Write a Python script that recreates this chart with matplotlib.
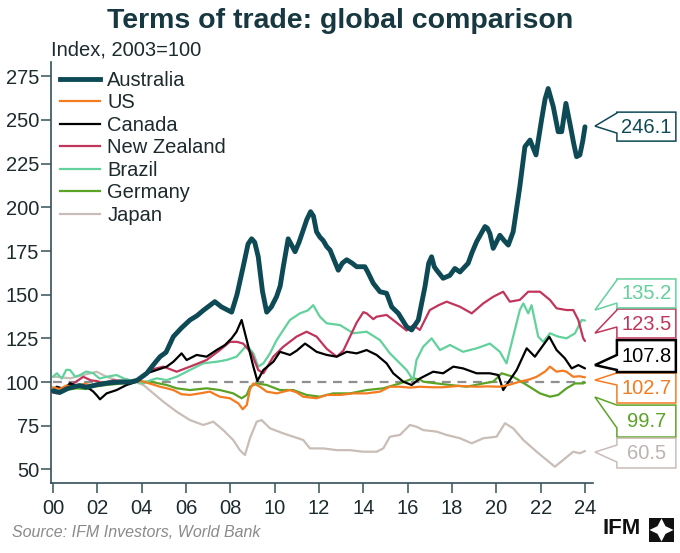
import matplotlib
matplotlib.use("Agg")
import matplotlib.pyplot as plt
from matplotlib.lines import Line2D
from matplotlib.patches import Polygon, Rectangle

plt.rcParams["font.family"] = ["Liberation Sans", "DejaVu Sans"]
plt.rcParams["font.size"] = 14.5

# years since 2000 / index values (2003=100)
aus_t = [0, 0.3, 0.7, 1.2, 1.5, 2.0, 2.5, 3.0, 3.5, 3.8, 4.23, 4.6, 4.83, 5.1, 5.43, 5.8,
         6.18, 6.5, 6.78, 7.3, 7.6, 8.06, 8.3, 8.58, 8.8, 8.96, 9.1, 9.26, 9.45, 9.64,
         9.85, 10.09, 10.25, 10.39, 10.61, 10.78, 10.92, 11.1, 11.29, 11.45, 11.62, 11.75,
         11.89, 12.04, 12.19, 12.35, 12.5, 12.87, 13.05, 13.25, 13.5, 13.7, 14.07, 14.2,
         14.45, 14.75, 15.05, 15.28, 15.58, 15.95, 16.18, 16.48, 16.78, 16.95, 17.08, 17.2,
         17.31, 17.6, 17.9, 18.13, 18.36, 18.73, 18.9, 19.11, 19.49, 19.6, 19.71, 19.86,
         20.0, 20.16, 20.35, 20.54, 20.76, 20.9, 21.06, 21.29, 21.52, 21.79, 22.04, 22.2,
         22.34, 22.57, 22.79, 22.95, 23.14, 23.32, 23.5, 23.62, 23.77, 23.9, 24.0]
aus_v = [95, 94, 96.5, 98, 97, 98.5, 99.5, 100, 100, 101, 105, 111, 114.5, 117, 126, 131,
         135.5, 138, 141, 146, 143, 140, 150, 166, 179, 182, 180, 171.7, 152, 140,
         143, 149, 155, 166, 182, 178, 174.6, 180, 187, 193, 197.5, 195,
         186, 183, 181, 177.5, 175.5, 164, 168, 170, 168, 166, 166, 163,
         156.5, 151.7, 150.8, 143, 139.3, 131.7, 129.8, 135.5, 154.5, 168, 171.7, 166,
         164, 159.4, 161, 165, 163, 168, 174, 180.3, 189, 188, 185, 176.5,
         180, 184, 181, 178.4, 186, 198, 211.8, 234.7, 238.5, 230, 250, 262,
         268, 257.6, 243.3, 243.3, 259.5, 248, 236, 229, 230, 238, 246.1]

us_t = [0, 0.3, 0.6, 1.0, 1.4, 1.8, 2.2, 2.6, 3.0, 3.5, 4.0, 4.4, 4.83, 5.1, 5.43, 5.8,
        6.18, 6.63, 7.08, 7.3, 7.53, 7.98, 8.2, 8.36, 8.56, 8.74, 8.89, 9.04, 9.34, 9.64,
        10.09, 10.69, 11.0, 11.29, 11.89, 12.35, 12.95, 13.55, 14.15, 14.75, 15.2, 15.65,
        16.1, 16.55, 17.1, 17.6, 18.3, 19.1, 19.6, 20.16, 20.6, 21.06, 21.5, 21.82, 22.2,
        22.42, 22.72, 23.0, 23.17, 23.47, 23.75, 24.0]
us_v = [97, 96, 98, 97, 99, 98, 100, 99, 100, 100.5, 100.5, 99, 97.3, 96.5, 95.4, 93,
        92.6, 93.5, 94.5, 93, 91.6, 90.7, 89, 87.8, 84.4, 86.8, 96, 99.2, 97.3, 94.5,
        93.5, 95.4, 94, 91.6, 90.7, 92.6, 92.6, 93.5, 93.5, 94.5, 97.3, 97.3,
        96.8, 97.3, 97, 97, 97.8, 97.3, 97.5, 97.3, 98.5, 100.2, 101.5, 103, 106,
        108.8, 105.9, 106.5, 105.9, 103, 103.3, 102.7]

can_t = [0, 0.17, 0.5, 0.77, 1.1, 1.37, 1.6, 1.82, 2.0, 2.12, 2.42, 2.87, 3.32, 3.78, 4.23,
         4.68, 5.13, 5.43, 5.8, 6.03, 6.48, 6.93, 7.38, 7.76, 8.06, 8.28, 8.51, 8.74, 9.04,
         9.22, 9.49, 9.94, 10.24, 10.69, 11.0, 11.37, 11.6, 11.89, 12.35, 12.8, 13.25, 13.7,
         14.15, 14.6, 15.05, 15.35, 15.8, 16.18, 16.55, 17.15, 17.6, 18.06, 18.5, 19.11,
         19.71, 20.09, 20.31, 20.61, 20.92, 21.37, 21.74, 22.12, 22.39, 22.72, 23.09, 23.4,
         23.7, 24.0]
can_v = [95, 97.3, 96, 99.3, 97.5, 98.3, 96.5, 94.5, 92, 90.1, 93.5, 95.4, 98.3, 100.2, 105,
         106.9, 108.8, 111.6, 116.4, 112.6, 115.5, 114.5, 118.3, 121.2, 125, 128.8, 135.5, 124, 108.8,
         100.6, 106.9, 111.6, 117.3, 115.5, 118, 122, 120, 117.3, 115.5, 114.5, 117.3, 116.4,
         118.3, 115.5, 110.7, 105, 100.2, 98.3, 102, 105.9, 105, 108.8, 107.8, 105,
         105, 104, 95.4, 101.1, 106.9, 119.3, 114.5, 121.2, 125.9, 118.3, 113.6, 107.8,
         109.7, 107.8]

nz_t = [0, 0.17, 0.5, 0.9, 1.37, 1.7, 2.0, 2.27, 2.7, 3.2, 3.7, 4.0, 4.38, 4.98, 5.58, 6.18,
        6.93, 7.53, 7.98, 8.3, 8.58, 8.96, 9.26, 9.49, 9.94, 10.39, 10.99, 11.44, 11.89,
        12.35, 12.8, 13.1, 13.4, 13.7, 14.0, 14.15, 14.45, 14.6, 15.05, 15.5, 15.95, 16.25,
        16.55, 17.0, 17.4, 17.76, 18.36, 18.89, 19.41, 19.86, 20.31, 20.61, 21.06, 21.44,
        21.97, 22.42, 22.72, 23.17, 23.47, 23.7, 23.92, 24.0]
nz_v = [94, 93.5, 96, 99, 103, 101, 100.5, 99.2, 101, 100, 100.5, 103, 106.9, 108.8, 105.9, 108.8,
        112.6, 118.3, 123, 123, 122, 116.4, 106.9, 105, 114.5, 120.2, 126, 128.8, 126,
        119, 114.5, 118, 126, 134, 140, 139.3, 136, 137.4, 138.4, 134, 129.5, 132.6,
        129.8, 141.2, 144, 146, 143.1, 139.3, 145, 148.8, 151.7, 146, 147, 151.7,
        151.7, 147, 142.2, 141.2, 141.2, 135.5, 125, 123.5]

bra_t = [0, 0.17, 0.4, 0.6, 0.77, 1.0, 1.22, 1.5, 1.82, 2.1, 2.42, 2.87, 3.2, 3.47, 4.08, 4.4,
         4.68, 5.13, 5.58, 6.18, 6.78, 7.38, 7.83, 8.28, 8.74, 9.04, 9.26, 9.49, 9.79, 10.09,
         10.39, 10.69, 11.14, 11.5, 11.74, 12.04, 12.35, 12.95, 13.55, 14.15, 14.75, 15.2,
         15.65, 15.95, 16.25, 16.4, 16.7, 17.08, 17.46, 17.91, 18.5, 19.11, 19.71, 20.16,
         20.46, 20.76, 21.06, 21.22, 21.44, 21.59, 21.89, 22.12, 22.42, 22.79, 23.17, 23.55,
         23.85, 24.0]
bra_v = [103, 105, 102, 107, 106.9, 103, 104, 106, 105, 102, 103, 104, 102, 101.1, 99.2, 101,
         102.1, 101.1, 103, 106.9, 110.7, 111.6, 112.6, 114.5, 121, 116.4, 108.8, 110.7, 116.4, 124,
         129.8, 135.5, 139.3, 141, 144, 137.4, 133.6, 132.6, 127.9, 128.8, 124, 116.4,
         110.7, 106.9, 101.1, 112.6, 120.2, 125, 118.3, 121.2, 117.3, 119.3, 122, 117.3,
         110.7, 126, 141.2, 145, 139.3, 144, 126, 123, 127.9, 126, 125, 127.9,
         135.5, 135.2]

ger_t = [0, 0.17, 0.6, 1.07, 1.5, 1.82, 2.42, 3.17, 3.78, 4.38, 5.13, 5.58, 6.18, 6.93, 7.53,
         8.13, 8.51, 8.74, 8.89, 9.19, 9.64, 10.24, 10.84, 11.44, 12.04, 12.64, 13.4, 14.15,
         14.9, 15.65, 16.25, 16.55, 16.7, 17.31, 17.91, 18.66, 19.41, 19.86, 20.24, 20.76,
         21.37, 21.97, 22.42, 22.79, 23.17, 23.55, 23.92, 24.0]
ger_v = [94, 94.5, 95.5, 96.4, 96, 97.3, 98.3, 99.2, 100.2, 100.2, 98.3, 96.4, 95.4, 96.4, 95.4,
         93.5, 90.7, 92.6, 97.3, 99.2, 98.3, 95.4, 95.4, 92.6, 91.6, 93.5, 93.5, 95.4,
         96.4, 99.2, 102.1, 101.5, 100.2, 99.2, 98.3, 97.3, 99.2, 100.2, 105, 103,
         98.3, 93.5, 91.6, 92.6, 96.4, 99.2, 99.2, 99.7]

jpn_t = [0, 0.17, 0.77, 1.37, 1.97, 2.42, 2.87, 3.47, 4.08, 4.53, 4.98, 5.58, 6.18, 6.78, 7.23,
         7.68, 8.13, 8.43, 8.66, 8.89, 9.19, 9.41, 9.79, 10.39, 10.84, 11.29, 11.59, 12.19,
         12.8, 13.4, 13.99, 14.6, 14.9, 15.2, 15.65, 16.1, 16.4, 16.7, 17.31, 17.76, 18.36,
         18.89, 19.41, 20.01, 20.39, 20.76, 21.22, 21.82, 22.27, 22.64, 23.02, 23.47, 23.77, 24.0]
jpn_v = [103, 103, 102.1, 104, 105.9, 103, 101.1, 101.1, 98.3, 93.5, 88.7, 83, 78.2, 75.4, 77.3,
         72.5, 66.8, 61, 58.2, 68, 77.3, 78.2, 73.5, 70.6, 68.7, 66.8, 62, 62,
         61, 61, 60.1, 60.1, 62, 68.7, 69.7, 75.4, 74.4, 72.5, 71.6, 69.7, 67.8,
         64.9, 67.8, 68.7, 76.4, 73.5, 66.8, 60.1, 55.4, 51.5, 55.4, 60.1, 59.2, 60.5]

names = ["Australia", "US", "Canada", "New Zealand", "Brazil", "Germany", "Japan"]
colors = ["#0e4a56", "#f47b20", "#000000", "#c2355b", "#62d19c", "#5ba327", "#c9bdb7"]
series = [(aus_t, aus_v), (us_t, us_v), (can_t, can_v), (nz_t, nz_v),
          (bra_t, bra_v), (ger_t, ger_v), (jpn_t, jpn_v)]
xticks = list(range(0, 25, 2))
xticklabels = ["00", "02", "04", "06", "08", "10", "12", "14", "16", "18", "20", "22", "24"]
yticks = [50, 75, 100, 125, 150, 175, 200, 225, 250, 275]

# callout layout: box top, box bottom, notch top, notch bottom, tip (index units)
callouts = {
    "Australia": (254.5, 237.9, 254.0, 242.5, 246.5),
    "Brazil": (159.0, 142.4, 158.4, 145.2, 141.2),
    "New Zealand": (141.8, 125.2, 141.2, 131.5, 128.0),
    "Canada": (124.0, 105.7, 115.5, 106.9, 109.7),
    "US": (105.2, 88.0, 105.2, 98.3, 101.1),
    "Germany": (86.8, 68.5, 86.8, 73.7, 91.4),
    "Japan": (67.9, 50.8, 63.9, 54.2, 59.9),
}

SPINE = "#34525a"
TXT = "#1d2a2e"

fig = plt.figure(figsize=(6.8, 5.53), dpi=100)
ax = fig.add_axes([0.075, 0.1266, 0.797, 0.7613])

ax.plot([0, 24], [100, 100], color="#8f8f8f", lw=1.6, ls=(0, (4, 3)), zorder=1)

for i in range(len(names) - 1, -1, -1):
    t, v = series[i]
    lw = 3.5 if i == 0 else 1.6
    ax.plot(t, v, color=colors[i], lw=lw, zorder=10 - i, solid_capstyle="round")

ax.set_xlim(-0.09, 24.36)
ax.set_ylim(42.2, 283.2)
ax.set_xticks(xticks)
ax.set_xticklabels(xticklabels)
ax.set_yticks(yticks)
for s in ["top", "right"]:
    ax.spines[s].set_visible(False)
for s in ["left", "bottom"]:
    ax.spines[s].set_color(SPINE)
    ax.spines[s].set_linewidth(1.2)
ax.tick_params(axis="both", length=7.5, width=1.1, color=SPINE, labelcolor=TXT,
               labelsize=14.5, direction="out")
ax.tick_params(axis="x", pad=4)
ax.tick_params(axis="y", pad=1)

handles = [Line2D([], [], color=c, lw=(3.5 if k == 0 else 1.6)) for k, c in enumerate(colors)]
leg = ax.legend(handles, names, loc="upper left", bbox_to_anchor=(0.0, 1.0), frameon=False,
                fontsize=14.5, handlelength=2.0, handletextpad=0.35, labelspacing=0.17,
                borderaxespad=0.25, borderpad=0.2)
for txt in leg.get_texts():
    txt.set_color(TXT)

# callout boxes on the right
x_tip, x0, x1 = 24.45, 25.44, 28.1
for k, name in enumerate(names):
    top, bot, nt, nb, tip = callouts[name]
    val = series[k][1][-1]
    pts = [(x0, top), (x1, top), (x1, bot), (x0, bot), (x0, nb), (x_tip, tip), (x0, nt)]
    ew = 1.8 if name == "Canada" else 1.1
    poly = Polygon(pts, closed=True, facecolor="white", edgecolor=colors[k], lw=ew,
                   clip_on=False, zorder=20, joinstyle="miter")
    ax.add_patch(poly)
    tc = "#bdb3af" if name == "Japan" else colors[k]
    ax.text((x0 + x1) / 2, (top + bot) / 2 - 0.3, f"{val:.1f}", color=tc, fontsize=14.5,
            ha="center", va="center", zorder=21, clip_on=False)

fig.text(0.5, 0.962, "Terms of trade: global comparison", ha="center", va="center",
         fontsize=20.5, fontweight="bold", color="#173840")
fig.text(0.075, 0.909, "Index, 2003=100", ha="left", va="center", fontsize=14.5, color=TXT)
fig.text(0.017, 0.037, "Source: IFM Investors, World Bank", ha="left", va="center",
         fontsize=11.5, style="italic", color="#8a8a8a")

# IFM logo
fig.text(0.943, 0.045, "IFM", ha="right", va="center", fontsize=16, fontweight="bold",
         color="#111111")
lx0, ly0, lw_, lh = 649 / 680, (553 - 542) / 553, 25 / 680, 24 / 553
fig.patches.append(Rectangle((lx0, ly0), lw_, lh, transform=fig.transFigure,
                             facecolor="#111111", edgecolor="none"))
cx, cy = lx0 + lw_ / 2, ly0 + lh / 2
star = [(cx, ly0 + lh * 0.98), (cx + lw_ * 0.16, cy + lh * 0.16), (lx0 + lw_ * 0.98, cy),
        (cx + lw_ * 0.16, cy - lh * 0.16), (cx, ly0 + lh * 0.02), (cx - lw_ * 0.16, cy - lh * 0.16),
        (lx0 + lw_ * 0.02, cy), (cx - lw_ * 0.16, cy + lh * 0.16)]
fig.patches.append(Polygon(star, closed=True, transform=fig.transFigure,
                           facecolor="white", edgecolor="none"))

fig.savefig("out.png", dpi=100)
